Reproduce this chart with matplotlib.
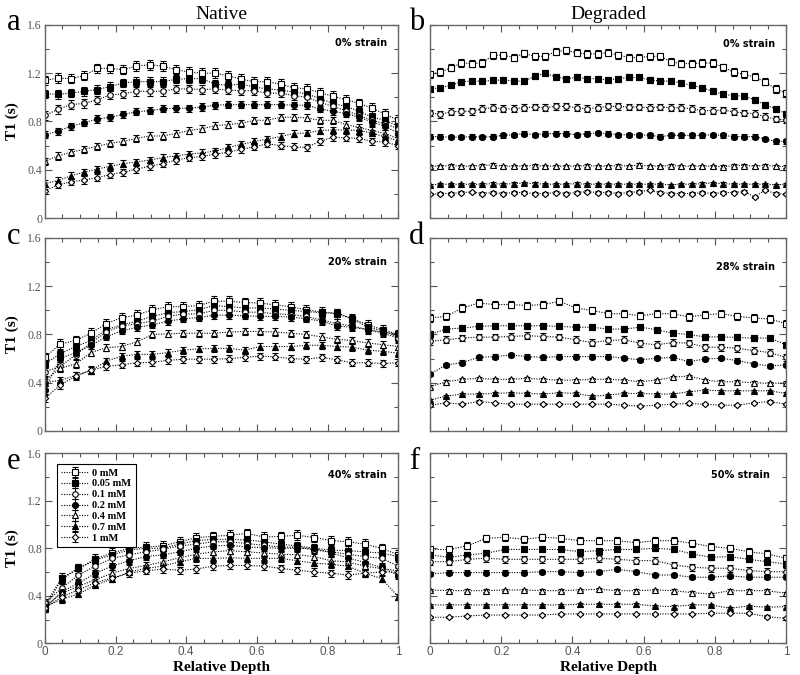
import numpy as np
import matplotlib
matplotlib.use("Agg")
import matplotlib.pyplot as plt
from matplotlib.ticker import MultipleLocator

# concentrations (legend), one row per concentration in each panel array below
labels = ["0 mM", "0.05 mM", "0.1 mM", "0.2 mM", "0.4 mM", "0.7 mM", "1 mM"]

# a: native, 0% strain (28 depths)
t1_a = [
    [1.14, 1.16, 1.155, 1.18, 1.24, 1.24, 1.23, 1.26, 1.27, 1.26, 1.23, 1.21, 1.20, 1.20,
     1.18, 1.15, 1.13, 1.13, 1.11, 1.08, 1.07, 1.04, 1.01, 0.98, 0.95, 0.91, 0.86, 0.81],
    [1.03, 1.025, 1.035, 1.05, 1.065, 1.09, 1.12, 1.13, 1.13, 1.13, 1.15, 1.155, 1.155, 1.11,
     1.10, 1.11, 1.085, 1.07, 1.06, 1.045, 1.03, 0.99, 0.95, 0.925, 0.885, 0.835, 0.81, 0.76],
    [0.85, 0.90, 0.94, 0.95, 0.98, 1.02, 1.03, 1.05, 1.05, 1.05, 1.07, 1.07, 1.065, 1.07,
     1.06, 1.055, 1.055, 1.035, 1.035, 1.015, 1.0, 0.96, 0.925, 0.89, 0.85, 0.81, 0.78, 0.74],
    [0.69, 0.72, 0.76, 0.79, 0.82, 0.835, 0.86, 0.88, 0.89, 0.905, 0.91, 0.91, 0.92, 0.935,
     0.94, 0.94, 0.94, 0.94, 0.94, 0.935, 0.935, 0.905, 0.885, 0.865, 0.835, 0.795, 0.76, 0.70],
    [0.47, 0.515, 0.545, 0.57, 0.595, 0.62, 0.635, 0.66, 0.68, 0.68, 0.70, 0.725, 0.74, 0.765,
     0.775, 0.785, 0.81, 0.81, 0.835, 0.835, 0.83, 0.81, 0.81, 0.775, 0.75, 0.725, 0.70, 0.655],
    [0.285, 0.31, 0.35, 0.38, 0.405, 0.43, 0.45, 0.465, 0.48, 0.50, 0.515, 0.53, 0.54, 0.555,
     0.585, 0.61, 0.635, 0.655, 0.675, 0.70, 0.705, 0.725, 0.73, 0.73, 0.725, 0.705, 0.67, 0.64],
    [0.225, 0.275, 0.30, 0.315, 0.335, 0.36, 0.38, 0.405, 0.43, 0.45, 0.48, 0.50, 0.51, 0.53,
     0.545, 0.57, 0.59, 0.615, 0.60, 0.59, 0.585, 0.635, 0.67, 0.665, 0.66, 0.635, 0.63, 0.60],
]

# b: degraded, 0% strain (35 depths)
t1_b = [
    [1.19, 1.21, 1.245, 1.285, 1.28, 1.285, 1.35, 1.35, 1.33, 1.365, 1.34, 1.34, 1.38, 1.39,
     1.37, 1.36, 1.36, 1.37, 1.35, 1.33, 1.33, 1.34, 1.34, 1.295, 1.28, 1.28, 1.285, 1.285,
     1.25, 1.21, 1.19, 1.17, 1.13, 1.07, 1.035],
    [1.07, 1.08, 1.10, 1.13, 1.135, 1.135, 1.14, 1.145, 1.135, 1.135, 1.175, 1.20, 1.17, 1.155,
     1.165, 1.155, 1.155, 1.145, 1.155, 1.165, 1.165, 1.145, 1.135, 1.135, 1.12, 1.10, 1.08,
     1.05, 1.025, 1.015, 1.01, 0.98, 0.94, 0.905, 0.865],
    [0.87, 0.86, 0.88, 0.885, 0.885, 0.905, 0.915, 0.905, 0.905, 0.915, 0.92, 0.915, 0.925,
     0.925, 0.915, 0.905, 0.915, 0.925, 0.925, 0.92, 0.92, 0.915, 0.92, 0.915, 0.915, 0.905,
     0.89, 0.89, 0.895, 0.88, 0.87, 0.865, 0.84, 0.82, 0.815],
    [0.675, 0.675, 0.67, 0.67, 0.675, 0.67, 0.675, 0.685, 0.69, 0.70, 0.69, 0.70, 0.70, 0.70,
     0.69, 0.70, 0.705, 0.70, 0.69, 0.69, 0.69, 0.685, 0.675, 0.685, 0.685, 0.685, 0.685, 0.69,
     0.685, 0.675, 0.675, 0.675, 0.655, 0.635, 0.635],
    [0.43, 0.43, 0.435, 0.43, 0.43, 0.435, 0.44, 0.43, 0.43, 0.43, 0.435, 0.43, 0.43, 0.43,
     0.43, 0.435, 0.43, 0.43, 0.435, 0.43, 0.44, 0.43, 0.43, 0.435, 0.43, 0.43, 0.43, 0.43,
     0.425, 0.435, 0.435, 0.43, 0.435, 0.43, 0.425],
    [0.275, 0.28, 0.28, 0.28, 0.28, 0.28, 0.285, 0.28, 0.285, 0.29, 0.285, 0.28, 0.28, 0.28,
     0.285, 0.28, 0.28, 0.28, 0.28, 0.28, 0.28, 0.28, 0.28, 0.275, 0.28, 0.28, 0.285, 0.29,
     0.285, 0.28, 0.28, 0.28, 0.28, 0.275, 0.28],
    [0.197, 0.203, 0.203, 0.211, 0.216, 0.203, 0.211, 0.203, 0.211, 0.211, 0.203, 0.203, 0.211,
     0.203, 0.211, 0.219, 0.211, 0.211, 0.203, 0.211, 0.219, 0.23, 0.211, 0.203, 0.203, 0.203,
     0.211, 0.203, 0.211, 0.211, 0.219, 0.175, 0.23, 0.203, 0.197],
]

# c: native, 20% strain (24 depths)
t1_c = [
    [0.61, 0.72, 0.75, 0.81, 0.89, 0.94, 0.96, 1.005, 1.03, 1.03, 1.04, 1.075, 1.075, 1.065,
     1.06, 1.045, 1.03, 1.005, 0.985, 0.97, 0.93, 0.88, 0.84, 0.80],
    [0.555, 0.64, 0.70, 0.75, 0.84, 0.88, 0.91, 0.95, 0.98, 0.99, 1.005, 1.04, 1.03, 1.02,
     1.02, 1.01, 1.0, 0.99, 0.98, 0.98, 0.93, 0.86, 0.83, 0.78],
    [0.49, 0.535, 0.63, 0.73, 0.82, 0.87, 0.89, 0.91, 0.95, 0.97, 0.97, 1.0, 1.0, 0.985,
     0.985, 0.97, 0.965, 0.95, 0.92, 0.89, 0.87, 0.84, 0.81, 0.77],
    [0.34, 0.60, 0.65, 0.71, 0.78, 0.83, 0.86, 0.88, 0.91, 0.93, 0.94, 0.96, 0.96, 0.955,
     0.95, 0.95, 0.945, 0.93, 0.91, 0.87, 0.86, 0.84, 0.82, 0.80],
    [0.42, 0.52, 0.555, 0.65, 0.69, 0.70, 0.74, 0.80, 0.805, 0.81, 0.81, 0.81, 0.82, 0.825,
     0.825, 0.82, 0.81, 0.80, 0.78, 0.76, 0.75, 0.73, 0.715, 0.70],
    [0.40, 0.42, 0.46, 0.50, 0.58, 0.62, 0.635, 0.635, 0.65, 0.67, 0.68, 0.685, 0.685, 0.67,
     0.70, 0.70, 0.70, 0.71, 0.71, 0.70, 0.695, 0.67, 0.66, 0.645],
    [0.27, 0.38, 0.455, 0.505, 0.535, 0.55, 0.565, 0.57, 0.585, 0.595, 0.595, 0.595, 0.60,
     0.61, 0.62, 0.615, 0.60, 0.595, 0.61, 0.59, 0.565, 0.565, 0.56, 0.565],
]

# d: degraded, 28% strain (23 depths)
t1_d = [
    [0.937, 0.95, 1.02, 1.06, 1.048, 1.048, 1.04, 1.048, 1.075, 1.02, 1.0, 0.972, 0.972,
     0.955, 0.972, 0.972, 0.945, 0.964, 0.972, 0.95, 0.937, 0.928, 0.89],
    [0.80, 0.845, 0.853, 0.867, 0.872, 0.872, 0.872, 0.872, 0.867, 0.86, 0.86, 0.845, 0.845,
     0.86, 0.84, 0.81, 0.80, 0.78, 0.78, 0.775, 0.77, 0.77, 0.714],
    [0.742, 0.756, 0.77, 0.778, 0.778, 0.783, 0.79, 0.783, 0.778, 0.756, 0.733, 0.75, 0.756,
     0.728, 0.714, 0.733, 0.728, 0.695, 0.695, 0.686, 0.667, 0.65, 0.61],
    [0.472, 0.547, 0.567, 0.61, 0.617, 0.63, 0.617, 0.61, 0.617, 0.617, 0.617, 0.617, 0.603,
     0.59, 0.603, 0.61, 0.575, 0.597, 0.603, 0.583, 0.556, 0.54, 0.547],
    [0.367, 0.408, 0.428, 0.436, 0.428, 0.428, 0.436, 0.428, 0.422, 0.422, 0.428, 0.428, 0.422,
     0.408, 0.422, 0.445, 0.456, 0.422, 0.408, 0.408, 0.40, 0.394, 0.40],
    [0.256, 0.289, 0.306, 0.306, 0.311, 0.317, 0.311, 0.306, 0.317, 0.311, 0.289, 0.297, 0.311,
     0.311, 0.306, 0.306, 0.325, 0.339, 0.333, 0.333, 0.333, 0.333, 0.311],
    [0.214, 0.233, 0.222, 0.244, 0.233, 0.222, 0.222, 0.222, 0.222, 0.222, 0.222, 0.222, 0.214,
     0.206, 0.214, 0.222, 0.228, 0.222, 0.214, 0.214, 0.233, 0.244, 0.222],
]

# e: native, 40% strain (22 depths)
t1_e = [
    [0.32, 0.55, 0.63, 0.71, 0.76, 0.80, 0.81, 0.82, 0.855, 0.89, 0.90, 0.91, 0.925, 0.895,
     0.90, 0.91, 0.89, 0.865, 0.855, 0.835, 0.80, 0.745],
    [0.295, 0.54, 0.63, 0.70, 0.745, 0.785, 0.80, 0.80, 0.835, 0.865, 0.875, 0.875, 0.87,
     0.855, 0.835, 0.82, 0.80, 0.785, 0.78, 0.77, 0.76, 0.73],
    [0.335, 0.465, 0.575, 0.65, 0.715, 0.745, 0.77, 0.79, 0.82, 0.835, 0.855, 0.855, 0.84,
     0.825, 0.81, 0.81, 0.785, 0.77, 0.75, 0.73, 0.715, 0.65],
    [0.295, 0.435, 0.505, 0.59, 0.65, 0.695, 0.73, 0.745, 0.77, 0.80, 0.82, 0.825, 0.81,
     0.805, 0.80, 0.80, 0.80, 0.76, 0.72, 0.68, 0.64, 0.57],
    [0.31, 0.42, 0.48, 0.535, 0.59, 0.63, 0.655, 0.685, 0.72, 0.75, 0.77, 0.78, 0.77, 0.76,
     0.75, 0.745, 0.73, 0.695, 0.685, 0.65, 0.63, 0.61],
    [0.31, 0.37, 0.415, 0.49, 0.54, 0.60, 0.63, 0.65, 0.685, 0.715, 0.715, 0.72, 0.715, 0.715,
     0.715, 0.695, 0.675, 0.665, 0.65, 0.59, 0.545, 0.39],
    [0.295, 0.39, 0.45, 0.51, 0.55, 0.59, 0.61, 0.625, 0.615, 0.625, 0.65, 0.655, 0.655, 0.65,
     0.63, 0.615, 0.60, 0.59, 0.575, 0.59, 0.60, 0.60],
]

# f: degraded, 50% strain (20 depths)
t1_f = [
    [0.79, 0.79, 0.82, 0.884, 0.893, 0.876, 0.893, 0.884, 0.864, 0.864, 0.864, 0.847, 0.864,
     0.864, 0.842, 0.814, 0.80, 0.771, 0.752, 0.716],
    [0.744, 0.724, 0.744, 0.758, 0.79, 0.79, 0.79, 0.79, 0.771, 0.78, 0.79, 0.79, 0.80, 0.79,
     0.752, 0.724, 0.73, 0.707, 0.687, 0.668],
    [0.687, 0.687, 0.707, 0.716, 0.707, 0.707, 0.707, 0.707, 0.707, 0.716, 0.707, 0.696,
     0.696, 0.66, 0.64, 0.632, 0.632, 0.612, 0.603, 0.603],
    [0.584, 0.595, 0.595, 0.595, 0.595, 0.595, 0.603, 0.603, 0.595, 0.603, 0.623, 0.603,
     0.575, 0.575, 0.556, 0.556, 0.567, 0.556, 0.556, 0.556],
    [0.449, 0.443, 0.443, 0.443, 0.449, 0.449, 0.443, 0.443, 0.449, 0.455, 0.443, 0.443,
     0.449, 0.443, 0.426, 0.415, 0.443, 0.443, 0.443, 0.421],
    [0.323, 0.323, 0.323, 0.323, 0.323, 0.323, 0.323, 0.323, 0.328, 0.328, 0.328, 0.328,
     0.314, 0.309, 0.323, 0.323, 0.295, 0.314, 0.303, 0.309],
    [0.219, 0.219, 0.23, 0.238, 0.238, 0.238, 0.238, 0.247, 0.247, 0.247, 0.247, 0.247,
     0.247, 0.247, 0.247, 0.253, 0.253, 0.253, 0.224, 0.21],
]

# error bar half-widths per concentration
err_native = [0.04, 0.035, 0.035, 0.03, 0.03, 0.028, 0.03]
err_degraded = [0.03, 0.025, 0.028, 0.018, 0.012, 0.01, 0.01]

strains = ["0% strain", "0% strain", "20% strain", "28% strain", "40% strain", "50% strain"]
letters = ["a", "b", "c", "d", "e", "f"]

markers = ["s", "s", "o", "o", "^", "^", "D"]
faces = ["white", "black", "white", "black", "white", "black", "white"]
msizes = [4.3, 4.3, 4.0, 4.3, 4.3, 4.3, 3.2]

SERIF = "Liberation Serif"
SANS = "Liberation Sans"
GRAY = "#555555"

fig = plt.figure(figsize=(8, 6.75), dpi=100)

# axes rectangles [left, bottom, width, height] in figure fraction
col_left = [0.056, 0.5375]
col_w = [0.442, 0.445]
row_bottom = [0.677, 0.3615, 0.047]
row_h = [0.286, 0.286, 0.2815]
letter_y = [0.966, 0.65, 0.316]
strain_pos = [(0.967, 0.905), (0.97, 0.90), (0.967, 0.877), (0.97, 0.851),
              (0.967, 0.884), (0.955, 0.884)]

panels = [t1_a, t1_b, t1_c, t1_d, t1_e, t1_f]

for k, data in enumerate(panels):
    row, col = k // 2, k % 2
    ax = fig.add_axes([col_left[col], row_bottom[row], col_w[col], row_h[row]])
    errs = err_native if col == 0 else err_degraded
    for i, y in enumerate(data):
        x = np.linspace(0, 1, len(y))
        ax.errorbar(x, y, yerr=errs[i], fmt=markers[i], ls=(0, (1, 1.3)), color="black",
                    lw=0.8, ms=msizes[i], mfc=faces[i], mec="black", mew=0.8,
                    ecolor="black", elinewidth=0.7, capsize=2, capthick=0.7,
                    label=labels[i])
    ax.set_xlim(0, 1)
    ax.set_ylim(0, 1.6)
    ax.xaxis.set_major_locator(MultipleLocator(0.2))
    ax.xaxis.set_minor_locator(MultipleLocator(0.05))
    ax.yaxis.set_major_locator(MultipleLocator(0.4))
    ax.yaxis.set_minor_locator(MultipleLocator(0.2))
    ax.tick_params(which="both", direction="in", top=True, right=True, color=GRAY,
                   labelcolor=GRAY, pad=2)
    ax.tick_params(which="major", length=5, width=0.8)
    ax.tick_params(which="minor", length=3, width=0.8)
    for s in ax.spines.values():
        s.set_color("#666666")
        s.set_linewidth(1.0)

    if col == 0:
        ax.set_yticks([0, 0.4, 0.8, 1.2, 1.6])
        ax.set_yticklabels(["0", "0.4", "0.8", "1.2", "1.6"], fontfamily=SERIF, fontsize=8.5)
        ax.set_ylabel("T1 (s)", fontfamily=SERIF, fontweight="bold", fontsize=11, labelpad=6)
    else:
        ax.set_yticklabels([])
    if row == 2:
        ax.set_xticks([0, 0.2, 0.4, 0.6, 0.8, 1.0])
        ax.set_xticklabels(["0", "0.2", "0.4", "0.6", "0.8", "1"], fontfamily=SANS, fontsize=8.5)
        ax.set_xlabel("Relative Depth", fontfamily=SERIF, fontweight="bold", fontsize=11,
                      labelpad=2)
    else:
        ax.set_xticklabels([])

    sx, sy = strain_pos[k]
    ax.text(sx, sy, strains[k], transform=ax.transAxes, ha="right", va="center",
            fontfamily="DejaVu Sans", fontweight="bold", fontsize=7)

    # panel letter
    lx = 0.008 if col == 0 else 0.511
    fig.text(lx, letter_y[row], letters[k], fontfamily=SERIF, fontsize=22,
             ha="left", va="center")

    if k == 4:
        leg = ax.legend(loc="upper left", bbox_to_anchor=(0.02, 0.97), frameon=True,
                        fancybox=False, edgecolor="black", framealpha=1, handlelength=2.6,
                        handletextpad=0.4, labelspacing=0.15, borderpad=0.4,
                        prop={"family": SERIF, "weight": "bold", "size": 7.5})
        leg.get_frame().set_linewidth(0.8)

fig.text(col_left[0] + col_w[0] / 2, 0.978, "Native", fontfamily=SERIF, fontsize=14,
         ha="center", va="center")
fig.text(col_left[1] + col_w[1] / 2, 0.978, "Degraded", fontfamily=SERIF, fontsize=14,
         ha="center", va="center")

fig.savefig("out.png", dpi=100)
